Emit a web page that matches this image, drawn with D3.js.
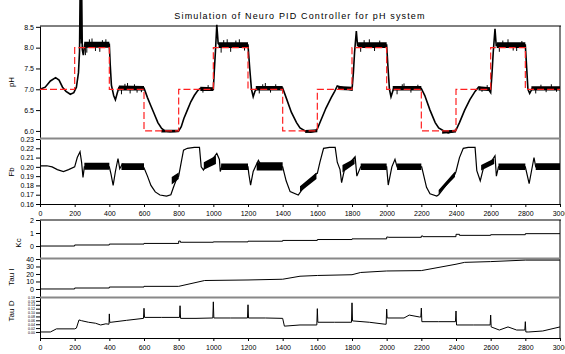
<!DOCTYPE html>
<meta charset="utf-8">
<script src="https://d3js.org/d3.v7.min.js"></script>
<style>
  body { margin: 0; background: #fff; }
  text { font-family: "Liberation Sans", Arial, sans-serif; }
</style>
<body>
<div id="chart"></div>
<script>

// ---- data ----
var timeTicks = [0,200,400,600,800,1000,1200,1400,1600,1800,2000,2200,2400,2600,2800,3000];

// setpoint (step after each break)
var setT = [0,200,400,600,800,1000,1200,1400,1600,1800,2000,2200,2400,2600,2800,3000];
var setV = [7,8,7,6,7,8,7,6,7,8,7,6,7,8,7,7];

// pH output (mean path)
var phT = [0,30,60,90,110,130,150,175,195,210,222,228,231,233,236,239,241,244,250,258,400,
  405,412,425,435,445,455,600,620,640,660,680,700,720,750,780,800,815,830,850,870,890,910,925,960,990,1000,
  1005,1012,1020,1028,1040,1200,1210,1220,1230,1240,1250,1400,1420,1450,1480,1500,1530,1560,1590,1600,
  1620,1650,1680,1700,1715,1740,1780,1800,1808,1815,1825,1832,1845,2000,2008,2016,2025,2040,2200,
  2220,2250,2280,2300,2330,2355,2380,2400,2420,2450,2480,2510,2530,2560,2590,2600,2608,2615,2625,2632,2645,
  2800,2808,2815,2825,2840,3000];
var phV = [7.0,7.05,7.2,7.28,7.22,7.05,6.95,6.88,6.92,7.05,7.4,7.9,9.15,8.2,9.15,8.1,9.15,7.95,7.82,8.08,8.08,
  7.6,7.1,6.85,6.75,6.9,7.04,7.03,6.8,6.6,6.4,6.2,6.07,6.0,5.98,5.99,6.0,6.1,6.3,6.5,6.7,6.85,6.97,7.02,7.0,6.99,7.0,
  7.4,7.9,8.55,8.1,8.06,8.06,7.5,7.0,6.82,6.95,7.02,7.03,6.8,6.45,6.2,6.07,6.0,5.97,6.0,6.05,
  6.25,6.55,6.8,6.95,7.08,7.05,7.0,6.98,7.4,7.9,8.4,8.05,8.06,8.06,7.5,7.0,6.82,7.02,7.02,
  6.85,6.5,6.2,6.07,6.0,5.95,5.98,6.02,6.2,6.5,6.75,6.95,7.05,7.02,6.98,6.92,7.4,7.9,8.45,8.05,8.06,
  8.06,7.5,7.0,6.9,7.02,7.02];

// pH noise band (null = gap)
var phBandT  = [255,400,null,455,600,null,700,800,null,925,1000,null,1030,1200,null,1245,1400,null,1530,1600,null,
  1720,1800,null,1835,2000,null,2035,2200,null,2320,2400,null,2530,2600,null,2635,2800,null,2835,3000];
var phBandLo = [8.0,8.0,null,6.97,6.97,null,5.96,5.97,null,6.96,6.96,null,7.99,7.99,null,6.97,6.97,null,5.95,5.97,null,
  6.98,6.97,null,7.99,7.99,null,6.97,6.97,null,5.93,5.96,null,6.97,6.96,null,7.99,7.99,null,6.97,6.97];
var phBandHi = [8.14,8.14,null,7.09,7.08,null,6.03,6.03,null,7.06,7.05,null,8.13,8.13,null,7.08,7.08,null,6.02,6.04,null,
  7.08,7.06,null,8.13,8.13,null,7.08,7.08,null,6.01,6.03,null,7.07,7.05,null,8.13,8.13,null,7.07,7.07];

// pH outlier spikes
var phSpikeT = [262,270,285,300,320,345,360,380,470,490,505,520,545,560,585,940,970,1045,1060,1080,1100,1130,1150,1180,1265,1285,1300,1330,1360,
  1850,1870,1900,1930,1960,2060,2090,2100,2140,2180,2550,2580,2650,2670,2700,2730,2750,2780,2860,2890,2920,2950,2980];
var phSpikeV = [7.82,7.88,8.2,8.22,7.92,7.9,8.18,8.2,6.88,7.13,7.15,6.9,7.12,6.92,6.93,6.92,7.1,7.88,8.18,8.2,7.9,8.17,8.2,7.93,6.9,7.12,7.15,6.92,7.12,
  7.9,8.18,8.2,7.92,8.17,6.88,7.12,7.14,6.92,7.11,6.94,7.1,7.9,8.17,8.2,7.93,7.92,8.16,6.9,7.11,6.93,7.12,6.94];

// Fb (mean path)
var fbT = [0,40,70,100,135,165,200,215,231,240,248,256,400,410,422,435,450,460,475,600,620,640,665,692,730,755,770,790,800,
  815,828,850,890,920,930,943,960,990,1020,1035,1040,1050,1200,1205,1215,1230,1260,1280,1400,1420,1443,1490,1510,1560,1590,
  1600,1615,1636,1670,1703,1715,1731,1740,1760,1790,1818,1828,1850,2000,2009,2030,2048,2060,2202,2230,2250,2289,2300,2350,
  2394,2400,2420,2442,2470,2510,2520,2540,2560,2600,2625,2633,2645,2800,2822,2835,2850,2860,3000];
var fbV = [0.201,0.2012,0.2,0.197,0.195,0.197,0.2,0.21,0.2162,0.205,0.1887,0.2,0.2,0.192,0.18,0.195,0.209,0.198,0.203,0.199,
  0.19,0.18,0.173,0.1697,0.1685,0.17,0.178,0.188,0.19,0.205,0.218,0.22,0.221,0.221,0.2,0.1965,0.203,0.207,0.2145,0.208,0.195,
  0.201,0.2,0.192,0.1804,0.195,0.207,0.2,0.2,0.185,0.1733,0.1697,0.175,0.185,0.192,0.193,0.205,0.22,0.221,0.221,0.205,0.197,
  0.183,0.2,0.205,0.211,0.19,0.2,0.2,0.1804,0.2,0.2081,0.2,0.2,0.178,0.171,0.1685,0.17,0.182,0.192,0.195,0.21,0.22,0.221,
  0.221,0.196,0.185,0.2,0.205,0.212,0.19,0.2,0.2,0.182,0.195,0.21,0.2,0.2];

// Fb noise band
var fbBandT  = [256,400,null,470,600,null,760,800,null,945,1015,null,1045,1200,null,1250,1400,null,1500,1595,null,
  1745,1815,null,1850,2000,null,2060,2200,null,2300,2394,null,2545,2620,null,2645,2800,null,2860,3000];
var fbBandLo = [0.197,0.197,null,0.1965,0.1965,null,0.181,0.187,null,0.197,0.203,null,0.1965,0.1965,null,0.196,0.196,null,
  0.173,0.187,null,0.194,0.203,null,0.1965,0.1965,null,0.1965,0.1965,null,0.171,0.189,null,0.196,0.203,null,0.1965,0.1965,null,0.1965,0.1965];
var fbBandHi = [0.2045,0.2045,null,0.204,0.204,null,0.189,0.194,null,0.205,0.212,null,0.2035,0.2035,null,0.205,0.205,null,
  0.179,0.194,null,0.202,0.209,null,0.2035,0.2035,null,0.2035,0.2035,null,0.175,0.195,null,0.202,0.209,null,0.2035,0.2035,null,0.204,0.204];

// Kc (step after)
var kcT = [0,200,400,600,800,810,1000,1200,1400,1600,1800,2000,2010,2200,2210,2400,2420,2600,2800,3000];
var kcV = [0,0.08,0.15,0.2,0.38,0.29,0.32,0.37,0.43,0.5,0.55,0.69,0.67,0.77,0.72,0.9,0.82,0.87,0.95,0.95];

// Tau I
var tiT = [0,200,200,400,400,600,600,800,950,1200,1400,1500,1600,1800,1850,2000,2200,2400,2450,2600,2800,3000];
var tiV = [0,0,1.3,1.3,2.6,2.6,3.5,3.5,11.3,12,13,17,18,19,22,24,24.5,33,35.5,36.5,38.5,38.5];

// Tau D
var tdT = [0,60,95,200,210,225,240,280,320,350,380,398,400,402,410,500,597,600,603,700,805,808,811,900,997,1000,1003,1100,
  1197,1200,1203,1300,1400,1410,1500,1597,1600,1603,1700,1797,1800,1803,1900,1990,1997,2000,2003,2100,2130,2190,2197,2200,2203,
  2300,2397,2400,2403,2500,2597,2600,2603,2650,2700,2750,2797,2800,2803,2820,2900,3000];
var tdV = [0,0,0.016,0.016,0.02,0.062,0.058,0.05,0.045,0.036,0.042,0.04,0.093,0.05,0.05,0.06,0.07,0.122,0.075,0.075,0.075,0.135,0.07,0.07,0.072,0.155,0.072,0.072,
  0.072,0.14,0.072,0.072,0.07,0.03,0.036,0.036,0.12,0.05,0.05,0.05,0.15,0.057,0.05,0.04,0.04,0.118,0.072,0.072,0.087,0.077,0.077,0.123,0.053,
  0.053,0.053,0.108,0.036,0.036,0.036,0.087,0.026,0.01,0.026,0.01,0.01,0.053,0.0,0.0,0.005,0.026];

var phTicks = [6.0,6.5,7.0,7.5,8.0,8.5];
var fbTicks = [0.16,0.17,0.18,0.19,0.20,0.21,0.22,0.23];
var kcTicks = [0,1,2];
var tiTicks = [0,10,20,30,40];
var tdTicks = [0,0.02,0.04,0.06,0.08,0.10,0.12,0.14,0.16,0.18];

// ---- layout ----
var W = 565, H = 354;
var left = 40, right = 560;

var svg = d3.select("#chart").append("svg")
  .attr("width", W).attr("height", H);

var x = d3.scaleLinear().domain([0, 3000]).range([left, right]);

function zip(ts, vs) { return ts.map(function(t, i) { return {t: t, v: vs[i]}; }); }
function zip3(ts, lo, hi) { return ts.map(function(t, i) { return {t: t, lo: lo[i], hi: hi[i]}; }); }

function panel(top, bottom, domain) {
  return d3.scaleLinear().domain(domain).range([bottom, top]);
}

var yPh = panel(26, 138, [5.83, 8.52]);
var yFb = panel(139, 204, [0.16, 0.23]);
var yKc = panel(220, 258, [-0.92, 2]);
var yTi = panel(258, 297, [-10.7, 41.3]);
var yTd = panel(297, 338, [-0.031, 0.18]);

// title
svg.append("text")
  .attr("x", 300).attr("y", 19)
  .attr("text-anchor", "middle")
  .style("font-size", "9px")
  .style("letter-spacing", "1.15px")
  .text("Simulation of Neuro PID Controller for pH system");

function leftAxis(y, ticks, fmt) {
  var g = svg.append("g")
    .attr("transform", "translate(" + left + ",0)")
    .call(d3.axisLeft(y).tickValues(ticks).tickFormat(d3.format(fmt)).tickSize(4).tickSizeOuter(0));
  g.selectAll("text").style("font-size", "7px").attr("x", -6);
  return g;
}
function bottomAxis(yPos) {
  var g = svg.append("g")
    .attr("transform", "translate(0," + yPos + ")")
    .call(d3.axisBottom(x).tickValues(timeTicks).tickFormat(d3.format("d")).tickSize(3).tickSizeOuter(0));
  g.selectAll("text").style("font-size", "7px").attr("y", 7);
  return g;
}

leftAxis(yPh, phTicks, ".1f");
leftAxis(yFb, fbTicks, ".2f");
leftAxis(yKc, kcTicks, "d");
leftAxis(yTi, tiTicks, "d");
var tdAxis = leftAxis(yTd, tdTicks, ".2f");
tdAxis.selectAll("text").style("font-size", "3.6px").attr("x", -5);
bottomAxis(204);
bottomAxis(338);

// frame lines
function hline(yPos, color, w) {
  svg.append("line").attr("x1", left).attr("x2", right + 1)
    .attr("y1", yPos).attr("y2", yPos)
    .attr("stroke", color).attr("stroke-width", w);
}
function vline(y1, y2) {
  svg.append("line").attr("x1", right).attr("x2", right)
    .attr("y1", y1).attr("y2", y2).attr("stroke", "#000");
}
hline(26, "#000", 1);
hline(220, "#000", 1);
vline(26, 204);
vline(220, 338);
hline(138.5, "#888", 2);
hline(258.5, "#888", 2);
hline(297.5, "#888", 2);

// axis titles
function ylabel(txt, lx, ly) {
  svg.append("text")
    .attr("transform", "translate(" + lx + "," + ly + ") rotate(-90)")
    .attr("text-anchor", "middle")
    .style("font-size", "8px")
    .text(txt);
}
ylabel("pH", 14, 82);
ylabel("Fb", 14, 172);
ylabel("Kc", 21, 243);
ylabel("Tau I", 14, 277);
ylabel("Tau D", 14, 311);

// ---- pH panel ----
var band = function(y) {
  return d3.area()
    .defined(function(d) { return d.t != null; })
    .x(function(d) { return x(d.t); })
    .y0(function(d) { return y(d.lo); })
    .y1(function(d) { return y(d.hi); });
};
var line = function(y) {
  return d3.line()
    .x(function(d) { return x(d.t); })
    .y(function(d) { return y(d.v); });
};

svg.append("path")
  .datum(zip3(phBandT, phBandLo, phBandHi))
  .attr("fill", "#000")
  .attr("d", band(yPh));

svg.selectAll("line.phspike")
  .data(zip(phSpikeT, phSpikeV))
  .enter().append("line")
    .attr("class", "phspike")
    .attr("x1", function(d) { return x(d.t); })
    .attr("x2", function(d) { return x(d.t); })
    .attr("y1", function(d) { return yPh(d.v > 7.5 ? 8.06 : (d.v > 6.5 ? 7.03 : 6.0)); })
    .attr("y2", function(d) { return yPh(d.v); })
    .attr("stroke", "#000").attr("stroke-width", 1);

svg.append("path")
  .datum(zip(phT, phV))
  .attr("fill", "none")
  .attr("stroke", "#000")
  .attr("stroke-width", 1.6)
  .attr("d", line(yPh));

svg.append("path")
  .datum(zip(setT, setV))
  .attr("fill", "none")
  .attr("stroke", "#ff2020")
  .attr("stroke-width", 1.2)
  .attr("stroke-dasharray", "7,3")
  .attr("d", line(yPh).curve(d3.curveStepAfter));

// ---- Fb panel ----
svg.append("path")
  .datum(zip3(fbBandT, fbBandLo, fbBandHi))
  .attr("fill", "#000")
  .attr("d", band(yFb));

svg.append("path")
  .datum(zip(fbT, fbV))
  .attr("fill", "none")
  .attr("stroke", "#000")
  .attr("stroke-width", 1.2)
  .attr("d", line(yFb));

// ---- Kc, Tau I, Tau D ----
svg.append("path")
  .datum(zip(kcT, kcV))
  .attr("fill", "none")
  .attr("stroke", "#000")
  .attr("stroke-width", 1)
  .attr("d", line(yKc).curve(d3.curveStepAfter));

svg.append("path")
  .datum(zip(tiT, tiV))
  .attr("fill", "none")
  .attr("stroke", "#000")
  .attr("stroke-width", 1)
  .attr("d", line(yTi));

svg.append("path")
  .datum(zip(tdT, tdV))
  .attr("fill", "none")
  .attr("stroke", "#000")
  .attr("stroke-width", 1)
  .attr("d", line(yTd));

</script>
</body>
